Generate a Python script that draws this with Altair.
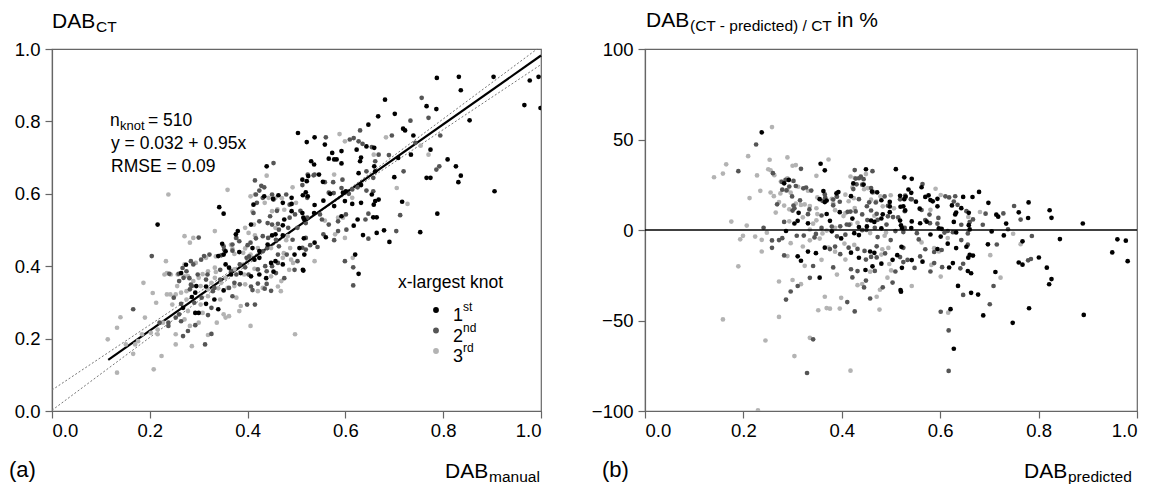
import altair as alt
import pandas as pd

FONT = "Liberation Sans"

# regression reported in panel (a): DAB_CT = 0.032 + 0.95 * DAB_manual
INTERCEPT = 0.032
SLOPE = 0.95
FIT_RANGE = [0.115, 1.0]

# dotted reference lines
dotted_a_x = [0.0, 1.0]
dotted_a_y = [0.058, 0.957]
dotted_b_x = [0.0, 0.992]
dotted_b_y = [0.002, 1.0]

x_ticks = [0.0, 0.2, 0.4, 0.6, 0.8, 1.0]
y_ticks_a = [0.0, 0.2, 0.4, 0.6, 0.8, 1.0]
y_ticks_b = [-100, -50, 0, 50, 100]

knot_labels = ["1st", "2nd", "3rd"]
knot_colors = ["#000000", "#555555", "#b3b3b3"]

# (DAB_manual, DAB_CT) per x-largest knot
first_knot = [
    (0.787, 0.920), (0.832, 0.923), (0.836, 0.886), (0.903, 0.923), (0.977, 0.913),
    (0.995, 0.923), (0.966, 0.845), (0.999, 0.837), (0.854, 0.803), (0.905, 0.607),
    (0.809, 0.695), (0.826, 0.676), (0.831, 0.632), (0.836, 0.650), (0.788, 0.545),
    (0.753, 0.494), (0.681, 0.860), (0.701, 0.821), (0.667, 0.814), (0.647, 0.791),
    (0.766, 0.842), (0.786, 0.834), (0.718, 0.780), (0.722, 0.775), (0.739, 0.761),
    (0.774, 0.722), (0.734, 0.708), (0.708, 0.699), (0.766, 0.644), (0.774, 0.644),
    (0.700, 0.646), (0.716, 0.578), (0.690, 0.467), (0.679, 0.499), (0.664, 0.492),
    (0.636, 0.486), (0.617, 0.512), (0.620, 0.432), (0.627, 0.379), (0.592, 0.538),
    (0.625, 0.529), (0.657, 0.535), (0.664, 0.535), (0.661, 0.580), (0.668, 0.584),
    (0.654, 0.598), (0.632, 0.575), (0.614, 0.572), (0.661, 0.662), (0.659, 0.676),
    (0.643, 0.731), (0.623, 0.722), (0.503, 0.768), (0.537, 0.756), (0.521, 0.743),
    (0.558, 0.736), (0.573, 0.713), (0.566, 0.697), (0.592, 0.718), (0.577, 0.695),
    (0.582, 0.695), (0.592, 0.684), (0.530, 0.690), (0.536, 0.681), (0.524, 0.649),
    (0.546, 0.653), (0.512, 0.639), (0.521, 0.635), (0.569, 0.600), (0.595, 0.603),
    (0.601, 0.607), (0.632, 0.624), (0.599, 0.580), (0.555, 0.581), (0.577, 0.566),
    (0.537, 0.569), (0.513, 0.596), (0.490, 0.589), (0.472, 0.575), (0.490, 0.552),
    (0.512, 0.547), (0.514, 0.534), (0.536, 0.547), (0.560, 0.480), (0.537, 0.465),
    (0.515, 0.477), (0.514, 0.388), (0.472, 0.405), (0.453, 0.385), (0.424, 0.377),
    (0.659, 0.727), (0.632, 0.700), (0.630, 0.690), (0.627, 0.657), (0.554, 0.633),
    (0.519, 0.604), (0.463, 0.596), (0.452, 0.586), (0.658, 0.570), (0.342, 0.563),
    (0.351, 0.545), (0.216, 0.515), (0.340, 0.428), (0.351, 0.432), (0.355, 0.441),
    (0.376, 0.488), (0.380, 0.497), (0.412, 0.570), (0.434, 0.593), (0.439, 0.676),
    (0.475, 0.529), (0.457, 0.488), (0.450, 0.485), (0.441, 0.460), (0.424, 0.442),
    (0.457, 0.414), (0.362, 0.396), (0.355, 0.405), (0.366, 0.377), (0.351, 0.333),
    (0.332, 0.308), (0.293, 0.327), (0.295, 0.345), (0.286, 0.315), (0.315, 0.296),
    (0.340, 0.281), (0.293, 0.271), (0.300, 0.271), (0.268, 0.285), (0.348, 0.462),
    (0.410, 0.450), (0.496, 0.432), (0.448, 0.409), (0.424, 0.423), (0.414, 0.418),
    (0.383, 0.439), (0.274, 0.404), (0.264, 0.381), (0.386, 0.381), (0.407, 0.372),
    (0.438, 0.367), (0.513, 0.390), (0.315, 0.344), (0.472, 0.485), (0.506, 0.450),
    (0.516, 0.432), (0.490, 0.572), (0.523, 0.593), (0.516, 0.528), (0.407, 0.515),
    (0.472, 0.513),
]

second_knot = [
    (0.756, 0.865), (0.770, 0.810), (0.733, 0.802), (0.695, 0.761), (0.630, 0.775),
    (0.743, 0.741), (0.794, 0.761), (0.689, 0.707), (0.792, 0.676), (0.786, 0.667),
    (0.719, 0.662), (0.712, 0.541), (0.704, 0.497), (0.647, 0.476), (0.616, 0.347),
    (0.616, 0.397), (0.599, 0.414), (0.602, 0.501), (0.577, 0.472), (0.585, 0.497),
    (0.585, 0.524), (0.601, 0.543), (0.641, 0.529), (0.647, 0.545), (0.657, 0.607),
    (0.643, 0.609), (0.657, 0.644), (0.643, 0.662), (0.661, 0.690), (0.668, 0.708),
    (0.654, 0.729), (0.627, 0.745), (0.617, 0.754), (0.609, 0.750), (0.560, 0.756),
    (0.537, 0.653), (0.558, 0.632), (0.575, 0.632), (0.566, 0.603), (0.592, 0.616),
    (0.607, 0.600), (0.614, 0.612), (0.625, 0.618), (0.522, 0.589), (0.512, 0.624),
    (0.486, 0.570), (0.479, 0.598), (0.497, 0.543), (0.522, 0.534), (0.548, 0.543),
    (0.552, 0.529), (0.566, 0.515), (0.555, 0.488), (0.543, 0.453), (0.528, 0.458),
    (0.512, 0.451), (0.519, 0.446), (0.464, 0.455), (0.480, 0.432), (0.450, 0.400),
    (0.439, 0.351), (0.435, 0.338), (0.421, 0.352), (0.410, 0.334), (0.415, 0.294),
    (0.635, 0.738), (0.523, 0.653), (0.535, 0.651), (0.594, 0.639), (0.453, 0.584),
    (0.576, 0.602), (0.417, 0.598), (0.204, 0.428), (0.166, 0.281), (0.240, 0.379),
    (0.259, 0.379), (0.269, 0.368), (0.300, 0.479), (0.289, 0.405), (0.311, 0.428),
    (0.322, 0.432), (0.369, 0.443), (0.406, 0.465), (0.417, 0.477), (0.412, 0.547),
    (0.419, 0.575), (0.431, 0.589), (0.450, 0.598), (0.424, 0.609), (0.428, 0.622),
    (0.415, 0.637), (0.453, 0.685), (0.446, 0.538), (0.450, 0.515), (0.464, 0.501),
    (0.486, 0.534), (0.483, 0.506), (0.442, 0.478), (0.398, 0.423), (0.439, 0.386),
    (0.421, 0.391), (0.402, 0.377), (0.395, 0.397), (0.384, 0.405), (0.377, 0.377),
    (0.344, 0.363), (0.315, 0.363), (0.329, 0.331), (0.362, 0.340), (0.384, 0.350),
    (0.369, 0.317), (0.306, 0.313), (0.282, 0.336), (0.286, 0.345), (0.275, 0.386),
    (0.260, 0.359), (0.249, 0.313), (0.264, 0.296), (0.291, 0.299), (0.326, 0.285),
    (0.319, 0.265), (0.260, 0.267), (0.264, 0.248), (0.253, 0.258), (0.238, 0.244),
    (0.220, 0.244), (0.238, 0.235), (0.268, 0.207), (0.278, 0.221), (0.326, 0.213),
    (0.313, 0.184), (0.293, 0.237), (0.351, 0.455), (0.369, 0.460), (0.399, 0.294),
    (0.400, 0.458), (0.431, 0.441), (0.440, 0.450), (0.462, 0.432), (0.502, 0.414),
    (0.462, 0.409), (0.436, 0.400), (0.403, 0.427), (0.352, 0.446), (0.346, 0.430),
    (0.305, 0.418), (0.284, 0.414), (0.267, 0.395), (0.281, 0.367), (0.298, 0.377),
    (0.318, 0.377), (0.344, 0.390), (0.366, 0.387), (0.458, 0.381), (0.475, 0.367),
    (0.496, 0.390), (0.284, 0.349), (0.332, 0.340), (0.373, 0.354), (0.407, 0.344),
    (0.448, 0.332), (0.377, 0.478), (0.383, 0.469), (0.431, 0.483), (0.458, 0.473),
    (0.492, 0.473), (0.519, 0.478), (0.434, 0.618), (0.460, 0.553), (0.508, 0.553),
    (0.424, 0.524), (0.441, 0.519), (0.462, 0.517), (0.502, 0.506), (0.519, 0.519),
]

third_knot = [
    (0.754, 0.733), (0.705, 0.616), (0.727, 0.572), (0.588, 0.765), (0.599, 0.745),
    (0.577, 0.653), (0.614, 0.589), (0.585, 0.534), (0.595, 0.534), (0.558, 0.526),
    (0.579, 0.488), (0.615, 0.423), (0.599, 0.478), (0.492, 0.618), (0.479, 0.472),
    (0.493, 0.409), (0.468, 0.331), (0.469, 0.359), (0.406, 0.235), (0.497, 0.212),
    (0.537, 0.414), (0.658, 0.708), (0.770, 0.708), (0.683, 0.756), (0.359, 0.611),
    (0.238, 0.598), (0.187, 0.354), (0.233, 0.414), (0.271, 0.405), (0.271, 0.483),
    (0.289, 0.478), (0.282, 0.465), (0.391, 0.437), (0.395, 0.449), (0.402, 0.492),
    (0.395, 0.506), (0.413, 0.515), (0.406, 0.593), (0.415, 0.598), (0.435, 0.575),
    (0.443, 0.589), (0.457, 0.589), (0.439, 0.650), (0.450, 0.552), (0.461, 0.557),
    (0.457, 0.506), (0.406, 0.432), (0.472, 0.423), (0.373, 0.391), (0.355, 0.368),
    (0.333, 0.368), (0.326, 0.354), (0.304, 0.345), (0.319, 0.336), (0.340, 0.339),
    (0.373, 0.345), (0.395, 0.350), (0.377, 0.313), (0.344, 0.308), (0.319, 0.317),
    (0.275, 0.331), (0.264, 0.327), (0.253, 0.322), (0.242, 0.322), (0.235, 0.322),
    (0.300, 0.368), (0.289, 0.359), (0.278, 0.373), (0.256, 0.345), (0.246, 0.294),
    (0.275, 0.308), (0.304, 0.294), (0.351, 0.267), (0.362, 0.262), (0.383, 0.276),
    (0.308, 0.271), (0.278, 0.276), (0.271, 0.253), (0.227, 0.244), (0.216, 0.225),
    (0.202, 0.216), (0.216, 0.212), (0.253, 0.212), (0.282, 0.235), (0.286, 0.179),
    (0.253, 0.184), (0.224, 0.152), (0.208, 0.115), (0.133, 0.106), (0.114, 0.198),
    (0.133, 0.230), (0.140, 0.259), (0.151, 0.184), (0.166, 0.158), (0.176, 0.193),
    (0.190, 0.258), (0.213, 0.299), (0.170, 0.184), (0.184, 0.212), (0.319, 0.210),
    (0.337, 0.244), (0.300, 0.244), (0.355, 0.258), (0.333, 0.497), (0.376, 0.478),
    (0.393, 0.377), (0.319, 0.386), (0.333, 0.396), (0.431, 0.340), (0.421, 0.331),
    (0.386, 0.290), (0.448, 0.450), (0.474, 0.436), (0.487, 0.450), (0.489, 0.418),
    (0.373, 0.434), (0.369, 0.448), (0.366, 0.459), (0.335, 0.427), (0.315, 0.423),
    (0.294, 0.409), (0.257, 0.377), (0.230, 0.377), (0.235, 0.381), (0.243, 0.377),
    (0.271, 0.372), (0.308, 0.378), (0.335, 0.384), (0.414, 0.393), (0.448, 0.372),
    (0.485, 0.390), (0.206, 0.326), (0.346, 0.354), (0.359, 0.340), (0.462, 0.344),
    (0.415, 0.485), (0.482, 0.483), (0.455, 0.588), (0.470, 0.588), (0.499, 0.575),
    (0.410, 0.551), (0.475, 0.556), (0.421, 0.450),
]

# ---------------------------------------------------------------- data tables
frames = []
for lab, pts in zip(knot_labels, [first_knot, second_knot, third_knot]):
    frames.append(pd.DataFrame(pts, columns=["manual", "ct"]).assign(knot=lab))
points = pd.concat(frames[::-1], ignore_index=True)  # 3rd drawn first, 1st on top

fit_df = pd.DataFrame({"manual": FIT_RANGE})
dot_a = pd.DataFrame({"manual": dotted_a_x, "ct": dotted_a_y})
dot_b = pd.DataFrame({"manual": dotted_b_x, "ct": dotted_b_y})
one = pd.DataFrame({"k": [0]})

W1, W2, H = 489, 492, 362
GRAY = "#666666"

color = alt.Color("knot:N", scale=alt.Scale(domain=knot_labels, range=knot_colors), legend=None)

xa = alt.X("manual:Q", scale=alt.Scale(domain=[0, 1], nice=False, zero=False),
           axis=alt.Axis(values=x_ticks, format=".1f", title=None, labelPadding=3))
ya = alt.Y("ct:Q", scale=alt.Scale(domain=[0, 1], nice=False, zero=False),
           axis=alt.Axis(values=y_ticks_a, format=".1f", title=None, labelPadding=5))


def txt(s, x, y, size, color="black"):
    return alt.Chart(one).mark_text(
        text=s, align="left", baseline="alphabetic", font=FONT, fontSize=size, color=color
    ).encode(x=alt.value(x), y=alt.value(y))


# ---------------------------------------------------------------- panel (a)
dots_a = alt.Chart(dot_a).mark_line(color="#777777", strokeWidth=1, strokeDash=[2, 2]).encode(x=xa, y=ya)
dots_b = alt.Chart(dot_b).mark_line(color="#777777", strokeWidth=1, strokeDash=[2, 2]).encode(x=xa, y=ya)
fit = alt.Chart(fit_df).transform_calculate(
    ct=f"{INTERCEPT} + {SLOPE} * datum.manual"
).mark_line(color="black", strokeWidth=2.2).encode(x=xa, y=ya)
pts_a = alt.Chart(points).mark_circle(size=22, opacity=1, clip=True).encode(x=xa, y=ya, color=color)

legend_layers = [txt("x-largest knot", 346, 239, 17.5)]
for i, (lab, col) in enumerate(zip(knot_labels, knot_colors)):
    yb = 272 + 20.5 * i
    legend_layers.append(
        alt.Chart(one).mark_circle(size=34, opacity=1, color=col).encode(
            x=alt.value(384), y=alt.value(yb - 11))
    )
    legend_layers.append(txt(lab[0], 401, yb, 18))
    legend_layers.append(txt(lab[1:], 411, yb - 10, 12))

texts_a = [
    txt("DAB", 0, -21, 21), txt("CT", 44, -17, 15.5),
    txt("n", 58, 77, 17.5), txt("knot", 68, 81, 13), txt("= 510", 96, 77, 17.5),
    txt("y = 0.032 + 0.95x", 59, 100, 17.5),
    txt("RMSE = 0.09", 59, 123, 17.5),
    txt("(a)", -43, 428, 22),
    txt("DAB", 393, 429, 21), txt("manual", 437, 433, 15.5),
]

panel_a = alt.layer(dots_a, dots_b, fit, pts_a, *legend_layers, *texts_a).properties(width=W1, height=H)

# ---------------------------------------------------------------- panel (b)
xb = alt.X("pred:Q", scale=alt.Scale(domain=[0, 1], nice=False, zero=False),
           axis=alt.Axis(values=x_ticks, format=".1f", title=None, labelPadding=3))
yb_enc = alt.Y("res:Q", scale=alt.Scale(domain=[-100, 100], nice=False, zero=False),
               axis=alt.Axis(values=y_ticks_b, format="d", title=None, labelPadding=5))

pts_b = alt.Chart(points).transform_calculate(
    pred=f"{INTERCEPT} + {SLOPE} * datum.manual"
).transform_calculate(
    res="(datum.ct - datum.pred) / datum.ct * 100"
).mark_circle(size=22, opacity=1, clip=True).encode(x=xb, y=yb_enc, color=color)

zero = alt.Chart(one).mark_rule(color="black", strokeWidth=1.6).encode(y=alt.datum(0))

texts_b = [
    txt("DAB", 1, -22, 21), txt("(CT - predicted) / CT", 45, -18, 15.5), txt("in %", 192, -22, 21),
    txt("(b)", -43, 428, 22),
    txt("DAB", 379, 429, 21), txt("predicted", 423, 433, 15.5),
]

panel_b = alt.layer(pts_b, zero, *texts_b).properties(width=W2, height=H)

chart = alt.hconcat(panel_a, panel_b, spacing=104, bounds="flush").properties(
    padding={"left": 0, "top": 1, "right": 0, "bottom": 0},
).configure_axis(
    labelFont=FONT, labelFontSize=18.5, labelColor="black", grid=False,
    tickColor=GRAY, domainColor=GRAY, tickSize=7, tickWidth=1.2, domainWidth=1.2,
).configure_view(stroke=GRAY, strokeWidth=1.2)

chart.save("out.html", embed_options={"renderer": "svg", "actions": False})
